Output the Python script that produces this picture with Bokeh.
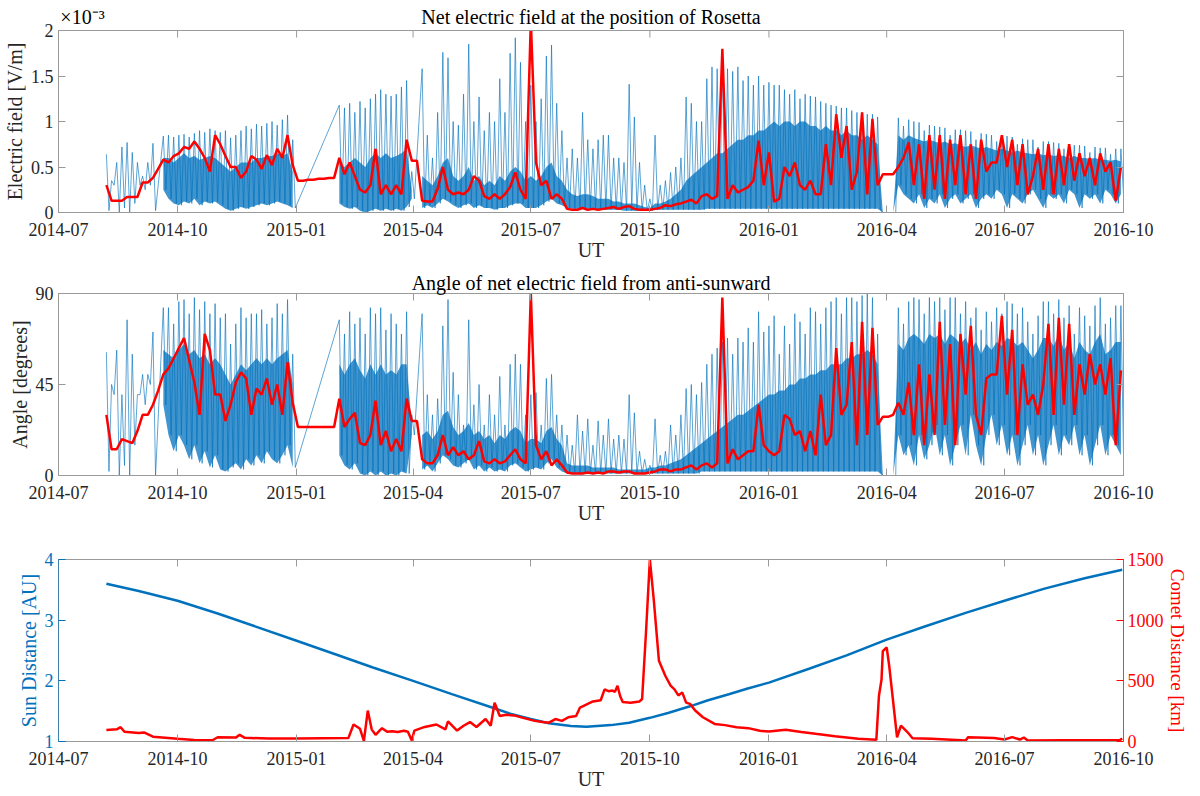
import numpy as np
import pandas as pd
from bokeh.plotting import figure
from bokeh.layouts import column
from bokeh.models import (Range1d, LinearAxis, DatetimeAxis, FixedTicker,
                          DatetimeTickFormatter, NumeralTickFormatter)
from bokeh.embed import file_html
from bokeh.resources import INLINE

nan = float("nan")

FONT = "Liberation Serif"
BLUE = "#0072BD"
RED = "#FF0000"
GRAY = "#9a9a9a"
TEXT = "#262626"

# field panels are sampled every 4 days starting here
SAMPLE_START = "2014-08-07"
SAMPLE_STEP = 4

# net electric field [x 1e-3 V/m]: spike tops, spike troughs, top of dense band, running mean
E_PEAK = [
    .64, .35, .55, .72, .77, .66, .55, .40, .55, .76,
    nan, .84, .85, .83, .85, .86, .83, .87, .90, .88,
    .92, .90, .88, .90, .82, .85, .90, .95, .92, .97,
    .95, .98, 1.00, .96, 1.02, 1.07, .80, nan, nan, nan,
    nan, nan, nan, nan, nan, 1.18, 1.15, 1.20, 1.10, 1.22,
    1.15, 1.25, 1.30, 1.35, 1.30, 1.28, 1.30, 1.38, 1.45, .45,
    nan, 1.58, .85, .60, 1.10, 1.76, 1.70, 1.00, .96, 1.30,
    1.85, 1.00, 1.27, .90, 1.10, 1.00, 1.47, 1.10, 1.75, 1.92,
    1.65, 1.00, 1.40, 1.00, 1.25, 1.72, 1.84, 1.20, .90, .60,
    .70, .60, 1.10, .80, .70, .80, .85, .85, .60, .60,
    .55, 1.41, 1.05, .55, .30, .15, .85, .30, .35, .44,
    .50, .60, 1.27, 1.20, 1.00, 1.00, 1.47, 1.60, 1.58, 1.65,
    1.58, 1.55, 1.60, 1.45, 1.50, 1.40, 1.50, 1.40, 1.43, 1.40,
    1.40, 1.35, 1.30, 1.35, 1.25, 1.30, 1.28, 1.27, 1.22, 1.20,
    1.18, 1.17, 1.15, 1.15, 1.12, 1.10, 1.10, 1.08, 1.08, 1.05,
    0, 0, 0, 1.04, .95, 1.02, 1.00, .99, .90, .96,
    .95, .94, .93, .85, .91, .91, .90, .89, .80, .87,
    .86, .85, .78, .83, .84, .83, .75, .81, .80, .80,
    .72, .78, .78, .77, .76, .70, .75, .74, .74, .73,
    .66, .72, .71, .71, .64, .70, .70,
]
E_LOW = [
    .02, .30, .00, .05, .00, .10, .30, .25, .30, .02,
    nan, .25, .15, .10, .08, .12, .10, .15, .08, .12,
    .10, .12, .08, .04, .02, .04, .06, .04, .06, .08,
    .10, .08, .10, .12, .10, .08, .05, nan, nan, nan,
    nan, nan, nan, nan, nan, .10, .06, .04, .06, .02,
    .00, .02, .04, .02, .04, .02, .04, .02, .06, .15,
    nan, .05, .08, .05, .10, .15, .12, .08, .05, .08,
    .10, .05, .08, .05, .05, .03, .05, .05, .08, .10,
    .10, .05, .05, .05, .08, .12, .15, .10, .08, .05,
    .04, .04, .05, .04, .04, .03, .03, .03, .03, .03,
    .02, .02, .02, .02, .02, .02, .03, .03, .03, .03,
    .03, .03, .03, .03, .03, .03, .04, .04, .04, .04,
    .04, .04, .04, .04, .04, .04, .04, .04, .04, .04,
    .04, .04, .04, .04, .04, .04, .04, .04, .04, .04,
    .04, .04, .04, .04, .04, .04, .04, .04, .04, .04,
    0, 0, 0, .30, .20, .15, .10, .20, .05, .15,
    .10, .20, .05, .15, .20, .10, .15, .20, .05, .15,
    .20, .15, .25, .20, .05, .20, .15, .10, .20, .25,
    .15, .05, .20, .15, .20, .10, .25, .20, .05, .20,
    .15, .20, .10, .25, .20, .10, .20,
]
E_CORE = [
    .02, .30, .00, .05, .00, .10, .30, .25, .30, .02,
    nan, .60, .60, .55, .60, .65, .60, .62, .58, .60,
    .62, .60, .55, .50, .45, .50, .55, .55, .55, .60,
    .60, .62, .62, .65, .62, .65, .45, nan, nan, nan,
    nan, nan, nan, nan, nan, .55, .50, .55, .60, .55,
    .50, .60, .65, .60, .65, .60, .62, .65, .70, .25,
    nan, .40, .35, .30, .40, .55, .60, .40, .35, .40,
    .50, .35, .40, .30, .35, .30, .40, .35, .45, .50,
    .45, .35, .40, .35, .40, .50, .55, .40, .35, .25,
    .20, .18, .20, .20, .18, .15, .15, .15, .12, .12,
    .10, .10, .10, .08, .06, .05, .10, .10, .12, .15,
    .20, .25, .35, .40, .45, .50, .55, .60, .65, .65,
    .70, .75, .80, .80, .85, .85, .90, .90, .95, 1.00,
    .95, 1.00, 1.00, .95, 1.00, 1.00, .95, .95, .90, .95,
    .90, .90, .85, .90, .85, .85, .80, .85, .80, .75,
    0, 0, 0, .85, .80, .85, .82, .80, .78, .80,
    .78, .76, .78, .75, .76, .74, .72, .74, .72, .70,
    .72, .70, .68, .70, .68, .66, .68, .66, .65, .64,
    .65, .63, .64, .62, .63, .62, .60, .62, .60, .60,
    .59, .60, .58, .58, .57, .58, .56,
]
E_MEAN = [
    .30, .13, .13, .13, .17, .17, .17, .33, .33, .38,
    .48, .58, .55, .62, .65, .72, .70, .78, .70, .60,
    .45, .85, .75, .62, .50, .50, .38, .45, .62, .58,
    .48, .63, .52, .70, .60, .85, .52, .35, .35, .36,
    .36, .37, .37, .38, .38, .60, .42, .55, .40, .25,
    .22, .30, .70, .20, .30, .20, .30, .20, .80, .57,
    .57, .13, .12, .12, .26, .50, .25, .20, .22, .20,
    .25, .40, .35, .18, .15, .20, .15, .20, .28, .44,
    .25, .15, 2.10, .55, .30, .35, .15, .20, .15, .04,
    .03, .03, .05, .03, .04, .03, .04, .05, .06, .04,
    .06, .07, .04, .03, .03, .03, .04, .05, .08, .07,
    .09, .10, .12, .14, .10, .18, .20, .15, .18, 1.80,
    .15, .30, .22, .25, .28, .35, .79, .30, .66, .12,
    .15, .50, .40, .55, .30, .25, .35, .20, .20, .75,
    .30, 1.08, .60, .95, .25, .45, 1.10, .20, 1.03, .30,
    .42, .42, .42, .50, .60, .77, .30, .75, .15, .85,
    .25, .85, .15, .80, .30, .85, .20, .75, .15, .80,
    .45, .55, .55, .85, .50, .80, .30, .75, .20, .40,
    .70, .25, .75, .20, .70, .30, .75, .35, .65, .40,
    .60, .30, .65, .45, .55, .13, .50,
]

# angle from anti-sunward [degrees], same sampling
A_PEAK = [
    61, 45, 62, 40, 77, 60, 40, 50, 50, 71,
    nan, 83, 83, 75, 86, 87, 80, 88, 82, 86,
    80, 85, 78, 80, 65, 75, 83, 78, 80, 80,
    82, 75, 78, 85, 80, 87, 60, nan, nan, nan,
    nan, nan, nan, nan, nan, 77, 70, 81, 75, 78,
    70, 83, 80, 83, 72, 80, 75, 70, 81, 30,
    nan, 80, 40, 30, 38, 74, 87, 51, 40, 25,
    77, 35, 45, 25, 40, 30, 49, 25, 55, 60,
    55, 30, 40, 41, 25, 48, 50, 30, 25, 20,
    15, 30, 22, 28, 15, 27, 20, 28, 18, 20,
    18, 40, 31, 12, 8, 5, 28, 10, 12, 25,
    20, 30, 43, 45, 40, 46, 55, 60, 63, 66,
    68, 60, 68, 66, 73, 66, 81, 71, 74, 79,
    60, 74, 65, 80, 76, 70, 83, 81, 75, 83,
    86, 88, 80, 88, 88, 86, 89, 90, 88, 70,
    0, 0, 0, 83, 75, 86, 88, 87, 80, 88,
    86, 88, 82, 88, 88, 80, 86, 78, 83, 72,
    81, 76, 83, 80, 86, 85, 80, 83, 76, 70,
    79, 86, 86, 80, 87, 78, 84, 70, 83, 79,
    74, 84, 88, 75, 78, 84, 84,
]
A_LOW = [
    2, 40, 0, 5, 0, 15, 40, 35, 45, 0,
    nan, 35, 20, 12, 20, 15, 8, 15, 6, 12,
    4, 10, 3, 2, 4, 6, 3, 8, 5, 10,
    6, 12, 8, 6, 10, 15, 4, nan, nan, nan,
    nan, nan, nan, nan, nan, 10, 5, 3, 6, 1,
    0, 2, 0, 2, 0, 1, 0, 2, 1, 20,
    nan, 3, 5, 2, 6, 10, 8, 5, 4, 6,
    8, 3, 5, 2, 4, 2, 3, 2, 5, 6,
    4, 2, 3, 4, 3, 6, 8, 4, 2, 1,
    1, 1, 1, 1, 1, 1, 1, 1, 1, 1,
    1, 1, 1, 1, 1, 1, 1, 1, 1, 1,
    1, 1, 1, 1, 1, 2, 2, 2, 2, 2,
    2, 2, 2, 2, 2, 2, 2, 2, 2, 2,
    2, 2, 2, 2, 2, 2, 2, 2, 2, 2,
    2, 2, 2, 2, 2, 2, 2, 2, 2, 2,
    0, 0, 0, 20, 10, 15, 5, 20, 8, 15,
    25, 10, 20, 5, 15, 25, 10, 30, 15, 5,
    20, 30, 15, 25, 10, 20, 5, 15, 25, 10,
    20, 5, 15, 25, 10, 20, 15, 25, 10, 20,
    5, 15, 25, 10, 20, 15, 10,
]
A_CORE = [
    2, 40, 0, 5, 0, 15, 40, 35, 45, 0,
    nan, 62, 60, 58, 62, 65, 60, 62, 58, 60,
    55, 58, 55, 50, 45, 50, 55, 52, 55, 58,
    55, 58, 55, 58, 60, 62, 45, nan, nan, nan,
    nan, nan, nan, nan, nan, 55, 50, 55, 58, 52,
    48, 55, 50, 55, 50, 52, 50, 55, 55, 25,
    nan, 20, 22, 18, 22, 30, 32, 24, 20, 22,
    26, 20, 22, 18, 20, 16, 20, 18, 22, 24,
    22, 16, 18, 18, 16, 22, 24, 18, 15, 6,
    5, 5, 5, 5, 4, 4, 4, 4, 4, 3,
    3, 3, 3, 3, 3, 4, 4, 5, 5, 6,
    7, 8, 10, 12, 14, 16, 18, 20, 22, 24,
    26, 28, 30, 30, 32, 34, 36, 38, 40, 40,
    42, 42, 45, 45, 48, 48, 50, 50, 52, 52,
    55, 55, 55, 58, 58, 60, 60, 62, 60, 55,
    0, 0, 0, 65, 62, 68, 70, 68, 65, 70,
    68, 70, 65, 70, 68, 65, 68, 62, 66, 60,
    65, 62, 66, 64, 68, 67, 64, 66, 62, 58,
    62, 68, 68, 64, 70, 62, 66, 58, 66, 62,
    60, 66, 70, 60, 62, 66, 66,
]
A_MEAN = [
    30, 13, 13, 18, 17, 16, 22, 30, 30, 35,
    42, 50, 53, 58, 63, 68, 57, 46, 30, 70,
    62, 40, 40, 27, 35, 46, 51, 48, 30, 43,
    40, 48, 35, 45, 30, 56, 36, 24, 24, 24,
    24, 24, 24, 24, 24, 38, 24, 28, 31, 16,
    15, 20, 37, 15, 22, 12, 18, 12, 38, 27,
    27, 8, 6, 6, 10, 20, 10, 14, 10, 12,
    8, 10, 17, 7, 6, 8, 6, 7, 10, 13,
    8, 6, 90, 15, 8, 12, 5, 8, 5, 1.5,
    1, 1, 1, 1.5, 1, 1.5, 1, 2, 2, 1.5,
    2, 2, 1, 1, 1, 1.5, 2, 3, 3, 2,
    3, 3, 4, 5, 3, 5, 6, 4, 6, 88,
    6, 13, 8, 10, 12, 12, 35, 15, 12, 10,
    12, 30, 28, 20, 22, 12, 22, 10, 40, 15,
    20, 63, 30, 35, 66, 15, 76, 20, 73, 25,
    29, 29, 30, 36, 30, 46, 20, 55, 15, 50,
    20, 76, 25, 65, 15, 70, 40, 74, 30, 20,
    48, 50, 50, 79, 40, 72, 20, 55, 35, 40,
    30, 45, 75, 30, 78, 35, 75, 30, 55, 40,
    60, 45, 55, 40, 58, 15, 52,
]

# heliocentric distance of the comet [AU]
SUN_DATES = ["2014-08-07", "2014-09-01", "2014-10-01", "2014-11-01", "2014-12-01",
             "2015-01-01", "2015-02-01", "2015-03-01", "2015-04-01", "2015-05-01",
             "2015-06-01", "2015-06-15", "2015-07-01", "2015-07-15", "2015-08-01",
             "2015-08-13", "2015-09-01", "2015-09-15", "2015-10-01", "2015-10-15",
             "2015-11-01", "2015-11-15", "2015-12-01", "2015-12-15", "2016-01-01",
             "2016-02-01", "2016-03-01", "2016-04-01", "2016-05-01", "2016-06-01",
             "2016-07-01", "2016-08-01", "2016-09-01", "2016-09-30"]
SUN_AU = [3.60, 3.48, 3.32, 3.11, 2.89, 2.66, 2.43, 2.22, 2.00, 1.78,
          1.56, 1.46, 1.37, 1.30, 1.255, 1.243, 1.27, 1.31, 1.39, 1.47,
          1.58, 1.68, 1.78, 1.87, 1.97, 2.20, 2.42, 2.68, 2.90, 3.12,
          3.32, 3.52, 3.69, 3.83]

# Rosetta distance from the comet [km]
COMET_DATES = ["2014-08-07", "2014-08-15", "2014-08-18", "2014-08-21", "2014-09-01",
               "2014-09-05", "2014-09-12", "2014-10-01", "2014-10-14", "2014-10-28",
               "2014-11-01", "2014-11-15", "2014-11-18", "2014-11-22", "2014-12-10",
               "2015-01-01", "2015-02-10", "2015-02-14", "2015-02-19", "2015-02-22",
               "2015-02-25", "2015-02-28", "2015-03-03", "2015-03-08", "2015-03-12",
               "2015-03-16", "2015-03-20", "2015-03-25", "2015-03-28", "2015-03-31",
               "2015-04-02", "2015-04-10", "2015-04-19", "2015-04-26", "2015-04-28",
               "2015-05-05", "2015-05-10", "2015-05-15", "2015-05-20", "2015-05-27",
               "2015-05-31", "2015-06-03", "2015-06-07", "2015-06-12", "2015-06-18",
               "2015-06-25", "2015-07-04", "2015-07-10", "2015-07-15", "2015-07-20",
               "2015-07-25", "2015-07-30", "2015-08-05", "2015-08-08", "2015-08-12",
               "2015-08-18", "2015-08-24", "2015-08-27", "2015-08-30", "2015-09-02",
               "2015-09-04", "2015-09-06", "2015-09-08", "2015-09-10", "2015-09-16",
               "2015-09-23", "2015-09-25", "2015-09-28", "2015-10-01", "2015-10-04",
               "2015-10-08", "2015-10-13", "2015-10-17", "2015-10-20", "2015-10-23",
               "2015-10-26", "2015-10-29", "2015-11-01", "2015-11-05", "2015-11-11",
               "2015-11-20", "2015-11-28", "2015-12-07", "2015-12-16", "2015-12-25",
               "2016-01-01", "2016-01-14", "2016-01-26", "2016-02-06", "2016-02-21",
               "2016-03-10", "2016-03-24", "2016-03-26", "2016-03-28", "2016-03-29",
               "2016-04-01", "2016-04-03", "2016-04-09", "2016-04-12", "2016-04-17",
               "2016-04-21", "2016-05-06", "2016-06-01", "2016-06-03", "2016-06-23",
               "2016-07-01", "2016-07-07", "2016-07-13", "2016-07-16", "2016-07-19",
               "2016-08-15", "2016-09-28", "2016-09-30"]
COMET_KM = [95, 100, 118, 80, 70, 75, 40, 22, 12, 10,
            35, 32, 55, 30, 25, 25, 28, 140, 105, 5,
            255, 100, 55, 110, 80, 85, 78, 88, 80, 8,
            90, 120, 140, 100, 165, 90, 130, 160, 120, 185,
            130, 320, 210, 220, 215, 195, 170, 160, 155, 185,
            170, 200, 210, 280, 300, 330, 340, 430, 415, 420,
            410, 460, 375, 325, 320, 330, 350, 900, 1500, 1170,
            665, 540, 460, 430, 380, 405, 320, 310, 255, 200,
            145, 135, 118, 110, 88, 82, 96, 78, 63, 44,
            22, 14, 375, 510, 745, 775, 620, 35, 130, 78,
            27, 22, 8, 36, 28, 16, 36, 16, 33, 8,
            10, 10, 25]

TICK_DATES = ["2014-07-01", "2014-10-01", "2015-01-01", "2015-04-01", "2015-07-01",
              "2015-10-01", "2016-01-01", "2016-04-01", "2016-07-01", "2016-10-01"]

TITLE_1 = "Net electric field at the position of Rosetta"
TITLE_2 = "Angle of net electric field from anti-sunward"
EXPONENT = "×10⁻³"

DAY = 86400000.0
FRAME_W, FRAME_H = 1065, 182


def ms(s):
    return pd.Timestamp(s).value / 1e6


X0, X1 = ms("2014-07-01"), ms("2016-10-01")
TICKS = [ms(d) for d in TICK_DATES]
T = ms(SAMPLE_START) + np.arange(len(E_PEAK)) * SAMPLE_STEP * DAY
PX = (X1 - X0) / FRAME_W  # one screen pixel along x, in ms


def style_axis(ax, color=GRAY, text=TEXT, ticks=None):
    ax.axis_line_color = color
    ax.major_tick_line_color = color
    ax.minor_tick_line_color = None
    ax.major_tick_in = 7
    ax.major_tick_out = 0
    ax.major_label_text_font = FONT
    ax.major_label_text_font_size = "18px"
    ax.major_label_text_color = text
    ax.major_label_standoff = 5
    ax.axis_label_text_font = FONT
    ax.axis_label_text_font_size = "20px"
    ax.axis_label_text_font_style = "normal"
    ax.axis_label_text_color = text
    ax.axis_label_standoff = 2
    if ticks is not None:
        # tick marks only, like the unlabeled top/right box edges
        ax.major_label_overrides = {t: "" for t in ticks}
        ax.major_label_text_font_size = "1px"
        ax.major_label_standoff = 0


def panel(top, bottom, y0, y1, yticks, ylabel, title=None, right_axis=True,
          right_border=67):
    p = figure(frame_width=FRAME_W, frame_height=FRAME_H, x_range=Range1d(X0, X1),
               y_range=Range1d(y0, y1), x_axis_type="datetime",
               output_backend="svg", toolbar_location=None,
               min_border_left=52, min_border_right=right_border,
               min_border_top=top, min_border_bottom=bottom)
    p.grid.visible = False
    p.outline_line_color = GRAY
    if title:
        p.title.text = title
        p.title.align = "center"
        p.title.text_font = FONT
        p.title.text_font_size = "20px"
        p.title.text_font_style = "normal"
        p.title.text_color = "black"
        p.title.standoff = 0

    fmt = DatetimeTickFormatter(days="%Y-%m", months="%Y-%m", years="%Y-%m")
    p.xaxis.ticker = FixedTicker(ticks=TICKS)
    p.xaxis.formatter = fmt
    p.xaxis.axis_label = "UT"
    style_axis(p.xaxis[0])
    p.xaxis.major_label_standoff = 10
    p.xaxis.axis_label_standoff = 0

    p.yaxis.ticker = FixedTicker(ticks=yticks)
    p.yaxis.axis_label = ylabel
    style_axis(p.yaxis[0])
    if right_axis:
        ra = LinearAxis(ticker=FixedTicker(ticks=yticks))
        style_axis(ra, ticks=yticks)
        p.add_layout(ra, "right")
    return p


def top_ticks(p):
    ax = DatetimeAxis(ticker=FixedTicker(ticks=TICKS))
    style_axis(ax, ticks=TICKS)
    p.add_layout(ax, "above")


def spikes(p, peak, low, core):
    pk = np.array(peak, float)
    lo = np.array(low, float)
    hi = np.array(core, float)
    idx = np.flatnonzero(~np.isnan(pk))
    # dense part of the spikes
    for run in np.split(idx, np.flatnonzero(np.diff(idx) > 1) + 1):
        p.varea(x=T[run], y1=lo[run], y2=hi[run], fill_color=BLUE, fill_alpha=0.75)
    xs = np.column_stack([T[idx], T[idx] + 2 * DAY]).ravel()
    ys = np.column_stack([pk[idx], lo[idx]]).ravel()
    p.line(xs, ys, color=BLUE, line_width=0.8, line_alpha=0.8)


# panel 1: electric field; its title and the axis exponent sit on the top axis
p1 = panel(30, 53, 0, 2, [0, 0.5, 1, 1.5, 2], "Electric field [V/m]")
p1.yaxis[0].formatter = NumeralTickFormatter(format="0.[0]")
x_exp = X0 + 24 * PX
x_mid = (X0 + X1) / 2
top1 = DatetimeAxis(ticker=FixedTicker(ticks=[x_exp, x_mid]))
style_axis(top1)
top1.major_tick_in = 0
top1.major_label_overrides = {x_exp: EXPONENT, x_mid: TITLE_1}
top1.major_label_text_font_size = "20px"
top1.major_label_text_color = "black"
top1.major_label_standoff = 3
p1.add_layout(top1, "above")
# box ticks along the top edge
p1.segment(x0=TICKS, y0=[2] * len(TICKS), x1=TICKS,
           y1=[2 - 7 * 2 / FRAME_H] * len(TICKS), color=GRAY, line_width=1)
spikes(p1, E_PEAK, E_LOW, E_CORE)
p1.line(T, E_MEAN, color=RED, line_width=2.5)

# panel 2: angle
p2 = panel(28, 59, 0, 90, [0, 45, 90], "Angle [degrees]", title=TITLE_2)
top_ticks(p2)
spikes(p2, A_PEAK, A_LOW, A_CORE)
p2.line(T, A_MEAN, color=RED, line_width=2.5)

# panel 3: distances
p3 = panel(25, 47, 1, 4, [1, 2, 3, 4], "Sun Distance [AU]", right_axis=False,
           right_border=72)
top_ticks(p3)
style_axis(p3.yaxis[0], color=BLUE, text=BLUE)
p3.yaxis.axis_line_alpha = 0.6
p3.extra_y_ranges = {"km": Range1d(0, 1500)}
ra = LinearAxis(y_range_name="km", ticker=FixedTicker(ticks=[0, 500, 1000, 1500]),
                axis_label="Comet Distance [km]")
style_axis(ra, color=RED, text=RED)
ra.axis_line_alpha = 0.5
ra.major_label_standoff = 4
ra.axis_label_standoff = 0
ra.axis_label_text_font_size = "19px"
p3.add_layout(ra, "right")
p3.line([ms(d) for d in SUN_DATES], SUN_AU, color=BLUE, line_width=2.5)
p3.line([ms(d) for d in COMET_DATES], COMET_KM, color=RED, line_width=2.5,
        y_range_name="km")

layout = column(p1, p2, p3, spacing=0)
open("out.html", "w").write(file_html(layout, INLINE))
